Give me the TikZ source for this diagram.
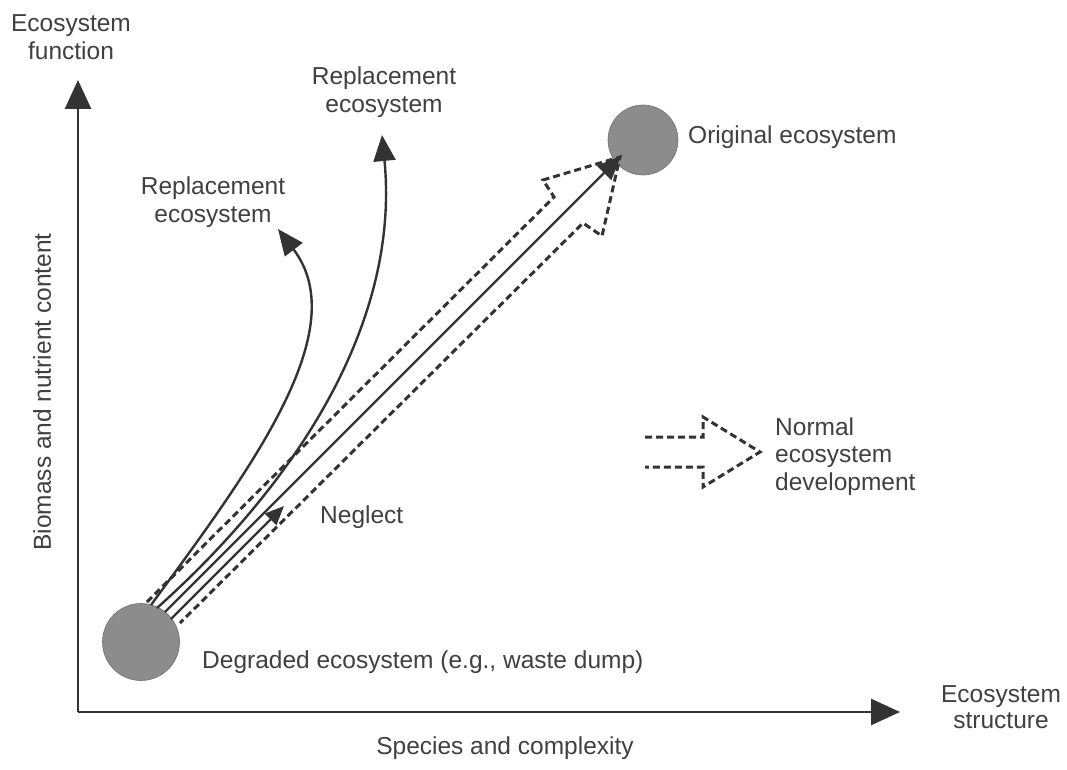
\documentclass[tikz,border=0pt]{standalone}
\usepackage{fontspec}
\setmainfont{Liberation Sans}
\usetikzlibrary{arrows.meta}
\definecolor{ink}{HTML}{333333}
\definecolor{txt}{HTML}{404040}
\definecolor{ball}{HTML}{8C8C8C}
\begin{document}
\begin{tikzpicture}[x=1pt,y=-1pt,
  lbl/.style={text=txt,font=\fontsize{24.5}{28}\selectfont,inner sep=0pt},
  axis/.style={draw=ink,line width=2.6pt,-{Triangle[length=29pt,width=26pt]}},
  flow/.style={draw=ink,line width=2.4pt},
  flowarrow/.style={flow,-{Triangle[length=26pt,width=22pt]}},
  dashline/.style={draw=ink,line width=3pt,dash pattern=on 7pt off 4pt,line join=miter},
  ballnode/.style={circle,fill=ball,draw=ball!80!black,line width=0.6pt,inner sep=0pt}]
\useasboundingbox (0,0) rectangle (1067,770);
\fill[white] (0,0) rectangle (1067,770);

% axes
\coordinate (O) at (78,712);
\coordinate (ytop) at (78,80);
\coordinate (xend) at (900,712);
\draw[axis] (O) -- (ytop);
\draw[axis] (O) -- (xend);

% circles
\node[ballnode,minimum size=77pt] (deg) at (141,642) {};
\node[ballnode,minimum size=70pt] (orig) at (643,140) {};

% dashed block arrow (normal development)
\coordinate (U0) at (147,602);
\coordinate (U1) at (554,197);
\coordinate (UH) at (543,180);
\coordinate (T) at (620,157);
\coordinate (LH) at (602,236);
\coordinate (L1) at (583,223);
\coordinate (L0) at (180,623);
\draw[dashline] (U0) -- (U1) -- (UH) -- (T) -- (LH) -- (L1) -- (L0);

% main restoration arrow
\coordinate (m0) at (165,612);
\coordinate (m1) at (621,156);
\draw[flow,-{Triangle[length=24pt,width=20pt]}] (m0) -- (m1);

% replacement curves
\coordinate (c1s) at (151,605);
\coordinate (c1e) at (278,229);
\draw[flowarrow] (c1s) .. controls (250,470) and (355,330) .. (c1e);
\coordinate (c2s) at (157,608);
\coordinate (c2e) at (382,135);
\draw[flowarrow] (c2s) .. controls (300,480) and (400,320) .. (c2e);

% neglect
\coordinate (n0) at (171,619);
\coordinate (n1) at (284,506);
\draw[flow,-{Triangle[length=19pt,width=16pt]}] (n0) -- (n1);

% legend block arrow
\coordinate (g0) at (645,437);
\coordinate (g1) at (703,437);
\coordinate (g2) at (703,417);
\coordinate (g3) at (760,452);
\coordinate (g4) at (703,487);
\coordinate (g5) at (703,467);
\coordinate (g6) at (645,467);
\draw[dashline] (g0) -- (g1) -- (g2) -- (g3) -- (g4) -- (g5) -- (g6);

% labels (multi-line nodes: base = baseline of last line)
\node[lbl,align=center,anchor=base] (yl) at (71,60) {Ecosystem\\function};
\node[lbl,rotate=90] (ylab) at (42,392) {Biomass and nutrient content};
\node[lbl,align=center,anchor=base] (rep1) at (384,113) {Replacement\\ecosystem};
\node[lbl,align=center,anchor=base] (rep2) at (213,222) {Replacement\\ecosystem};
\node[lbl,anchor=west] (origl) at (688,137) {Original ecosystem};
\node[lbl,anchor=base west] (negl) at (320,523) {Neglect};
\node[lbl,anchor=base west] (degl) at (202,668) {Degraded ecosystem (e.g., waste dump)};
\node[lbl] (xlab) at (505,748) {Species and complexity};
\node[lbl,align=center,anchor=base,font=\fontsize{24.5}{25.5}\selectfont] (xl) at (1001,728) {Ecosystem\\structure};
\node[lbl,align=left,anchor=base west,font=\fontsize{24.5}{27.5}\selectfont] (leg) at (775,490) {Normal\\ecosystem\\development};
\end{tikzpicture}
\end{document}
